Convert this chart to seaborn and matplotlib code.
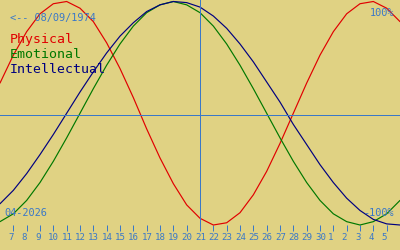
import numpy as np
import pandas as pd
import matplotlib
matplotlib.use("Agg")
import matplotlib.pyplot as plt
import matplotlib.transforms as mtransforms
import seaborn as sns

# ---- data ----
birth_label = "<-- 08/09/1974"
month_label = "04-2026"
top_label = "100%"
bottom_label = "-100%"
series_names = ["Physical", "Emotional", "Intellectual"]
days = [6, 7, 8, 9, 10, 11, 12, 13, 14, 15, 16, 17, 18, 19, 20, 21, 22, 23, 24, 25,
        26, 27, 28, 29, 30, 1, 2, 3, 4, 5, 6]
today_index = 15  # the 21st
physical = [0.27, 0.52, 0.73, 0.89, 0.98, 1.00, 0.94, 0.82, 0.63, 0.40, 0.14,
            -0.14, -0.40, -0.63, -0.82, -0.94, -1.00, -0.98, -0.89, -0.73, -0.52,
            -0.27, 0.00, 0.27, 0.52, 0.73, 0.89, 0.98, 1.00, 0.94, 0.82]
emotional = [-0.97, -0.90, -0.78, -0.62, -0.43, -0.22, 0.00, 0.22, 0.43, 0.62, 0.78,
             0.90, 0.97, 1.00, 0.97, 0.90, 0.78, 0.62, 0.43, 0.22, 0.00, -0.22,
             -0.43, -0.62, -0.78, -0.90, -0.97, -1.00, -0.97, -0.90, -0.78]
intellectual = [-0.81, -0.69, -0.54, -0.37, -0.19, 0.00, 0.19, 0.37, 0.54, 0.69, 0.81,
                0.91, 0.97, 1.00, 0.99, 0.95, 0.87, 0.76, 0.62, 0.46, 0.28, 0.10,
                -0.10, -0.28, -0.46, -0.62, -0.76, -0.87, -0.95, -0.99, -1.00]

# ---- style ----
BG = "#e0d283"
BLUE = "#3a78c8"
colors = {"Physical": "#e00000", "Emotional": "#007800", "Intellectual": "#000080"}

sns.set_theme(style="white")
plt.rcParams["font.family"] = ["DejaVu Sans Mono", "DejaVu Sans"]

fig = plt.figure(figsize=(4, 2.5), dpi=100, facecolor=BG)
ax = fig.add_axes([0, 19 / 250, 1, 231 / 250])
ax.set_facecolor(BG)

idx = list(range(len(days)))
df = pd.DataFrame({
    "idx": idx * 3,
    "value": physical + emotional + intellectual,
    "series": np.repeat(series_names, len(days)),
})
sns.lineplot(data=df, x="idx", y="value", hue="series", palette=colors,
             linewidth=0.85, legend=False, ax=ax)

ax.axvline(today_index, color=BLUE, lw=0.72, antialiased=False)
ax.axhline(-0.016, color=BLUE, lw=0.72, antialiased=False)

ax.set_xlim(0, len(days) - 1)
ax.set_ylim(-1.0537, 1.0134)
ax.set_xlabel("")
ax.set_ylabel("")
ax.set_yticks([])
for s in ax.spines.values():
    s.set_visible(False)

ax.tick_params(axis="x", direction="in", length=4.3, width=0.72, color=BLUE,
               labelcolor=BLUE, labelsize=6.6, pad=1.5, bottom=True)
ax.set_xticks(idx[1:-1])
ax.set_xticklabels([str(d) for d in days[1:-1]])
offset = mtransforms.ScaledTranslation(-5 / 100, 0, fig.dpi_scale_trans)
for lbl in ax.get_xticklabels():
    lbl.set_horizontalalignment("left")
    lbl.set_transform(lbl.get_transform() + offset)

# ---- texts ----
fig.text(10 / 400, 1 - 21 / 250, birth_label, color=BLUE, fontsize=7.4, va="baseline", ha="left")
fig.text(394 / 400, 1 - 16 / 250, top_label, color=BLUE, fontsize=7.4, va="baseline", ha="right")
fig.text(394 / 400, 1 - 216 / 250, bottom_label, color=BLUE, fontsize=7.4, va="baseline", ha="right")
fig.text(4 / 400, 1 - 216 / 250, month_label, color=BLUE, fontsize=7.4, va="baseline", ha="left")
for i, name in enumerate(series_names):
    fig.text(10 / 400, 1 - (43 + 15 * i) / 250, name, color=colors[name],
             fontsize=9.5, va="baseline", ha="left")

fig.savefig("out.png", dpi=100, facecolor=BG)
